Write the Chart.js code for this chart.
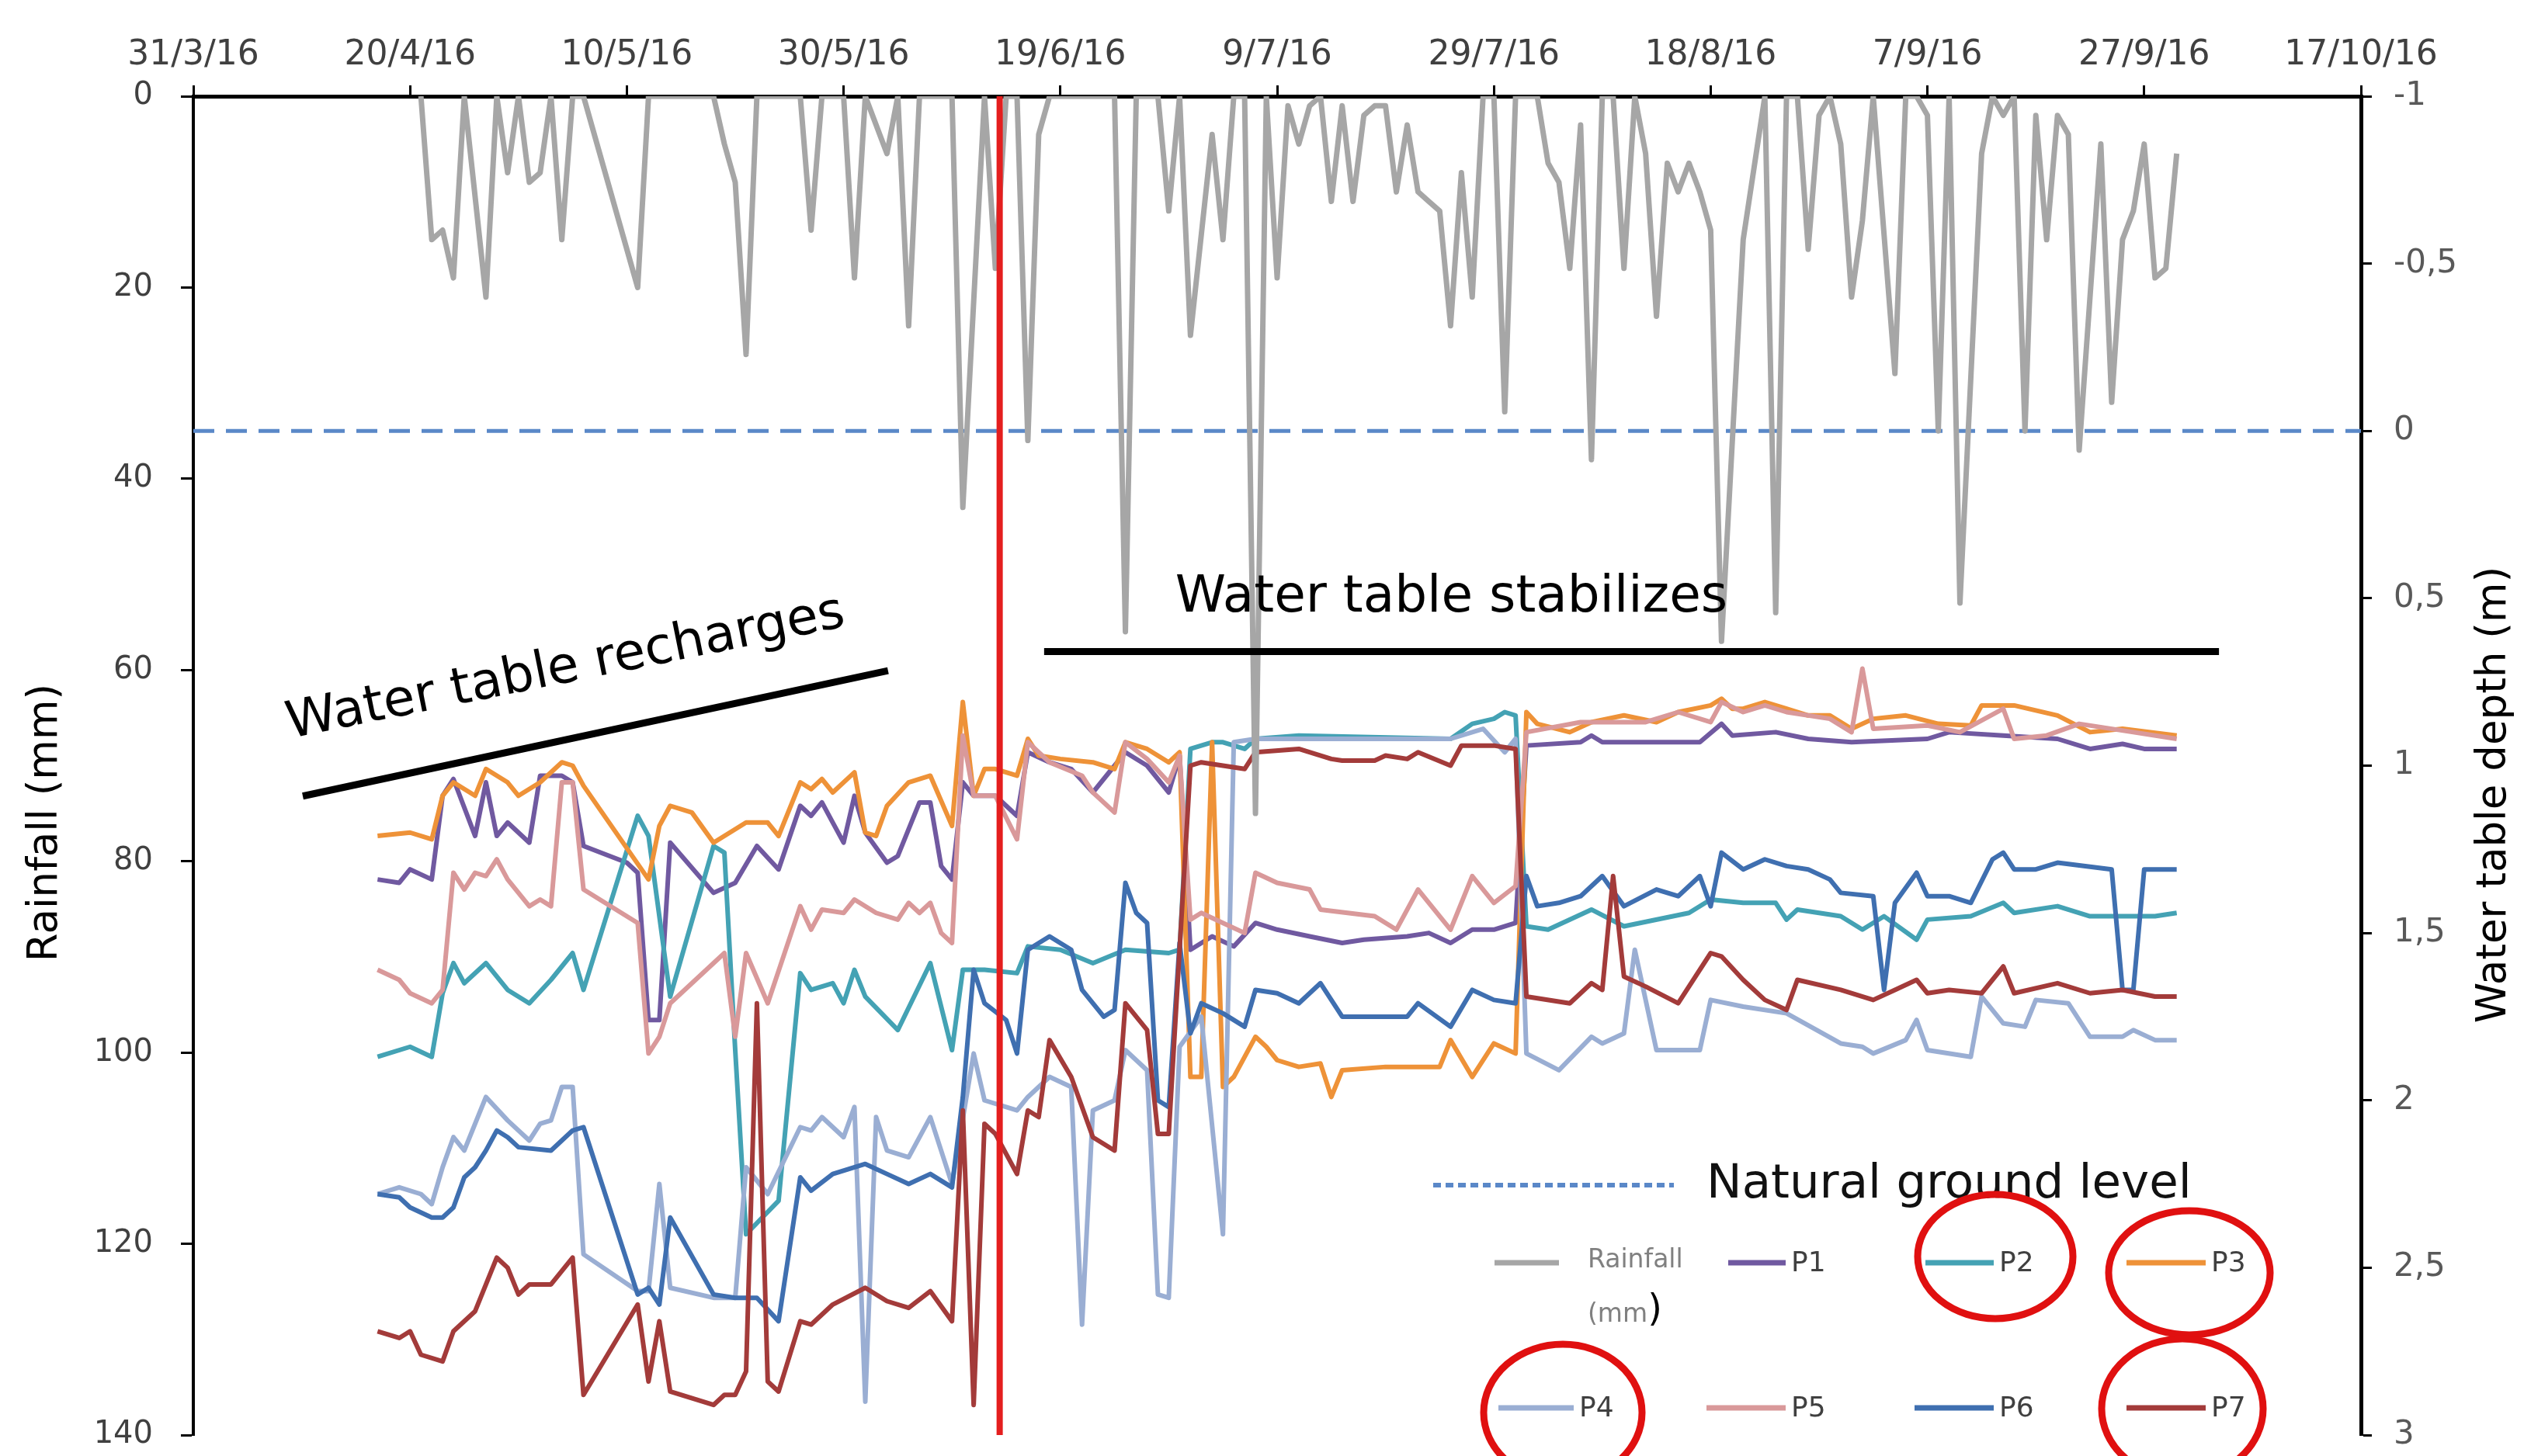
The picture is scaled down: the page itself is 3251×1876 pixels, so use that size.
<!DOCTYPE html>
<html>
<head>
<meta charset="utf-8">
<title>Rainfall and water table depth</title>
<script src="https://cdn.jsdelivr.net/npm/chart.js@4.4.1/dist/chart.umd.min.js"></script>
<style>
html, body { margin: 0; padding: 0; background: #fff; }
#wrap { width: 3251px; height: 1876px; }
</style>
</head>
<body>
<div id="wrap"><canvas id="chart" width="3251" height="1876"></canvas></div>
<script>
// x values are days counted from 31/3/16
var dateLabels = ['31/3/16','20/4/16','10/5/16','30/5/16','19/6/16','9/7/16','29/7/16','18/8/16','7/9/16','27/9/16','17/10/16'];

var rainDay = [21,22,23,24,25,27,28,29,30,31,32,33,34,35,36,41,42,48,49,50,51,52,56,57,58,60,61,62,64,65,66,67,70,71,73,74,75,76,77,78,79,85,86,87,89,90,91,92,94,95,96,97,98,99,100,101,102,103,104,105,106,107,108,109,110,111,112,113,114,115,116,117,118,119,120,121,122,124,125,126,127,128,129,130,131,132,133,134,135,136,137,138,139,140,141,143,145,146,147,148,149,150,151,152,153,154,155,157,158,159,160,161,162,163,165,166,167,168,169,170,171,172,173,174,176,177,178,179,180,181,182,183];
var rainMm = [0,15,14,19,0,21,0,8,0,9,8,0,15,0,0,20,0,0,5,9,27,0,0,14,0,0,19,0,6,0,24,0,0,43,0,18,0,0,36,4,0,0,56,0,0,12,0,25,4,15,0,0,75,0,19,1,5,1,0,11,1,11,2,1,1,10,3,10,11,12,24,8,21,0,0,33,0,0,7,9,18,3,38,0,0,18,0,6,23,7,10,7,10,14,57,15,0,54,0,0,16,2,0,5,21,13,0,29,0,0,2,35,0,53,6,0,2,0,35,2,15,2,4,37,5,32,15,12,5,19,18,6];

var p1Day = [17,19,20,22,23,24,26,27,28,29,31,32,34,35,36,40,41,42,43,44,48,50,52,54,56,57,58,59,60,61,62,64,65,67,68,69,70,71,72,74,75,76,77,79,81,83,86,88,90,91,92,94,96,98,100,103,106,108,112,114,116,118,120,122,123,128,129,130,139,141,142,146,149,153,160,162,167,172,175,178,180,183];
var p1Depth = [1.34,1.35,1.31,1.34,1.09,1.04,1.21,1.05,1.21,1.17,1.23,1.03,1.03,1.05,1.24,1.29,1.32,1.76,1.76,1.23,1.38,1.35,1.24,1.31,1.12,1.15,1.11,1.17,1.23,1.09,1.2,1.29,1.27,1.11,1.11,1.3,1.34,1.05,1.09,1.09,1.12,1.15,0.96,0.99,1.01,1.08,0.96,1.0,1.08,0.97,1.55,1.51,1.54,1.47,1.49,1.51,1.53,1.52,1.51,1.5,1.53,1.49,1.49,1.47,0.94,0.93,0.91,0.93,0.93,0.875,0.91,0.9,0.92,0.93,0.92,0.9,0.91,0.92,0.95,0.935,0.95,0.95];

var p2Day = [17,20,22,23,24,25,27,29,31,33,35,36,41,42,44,48,49,50,51,54,56,57,59,60,61,62,65,68,70,71,73,76,77,80,83,86,90,91,92,94,95,97,98,102,116,118,120,121,122,123,125,129,132,138,140,143,146,147,148,152,154,156,159,160,164,167,168,172,175,178,181,183];
var p2Depth = [1.87,1.84,1.87,1.68,1.59,1.65,1.59,1.67,1.71,1.64,1.56,1.67,1.15,1.21,1.69,1.24,1.26,1.85,2.4,2.3,1.62,1.67,1.65,1.71,1.61,1.69,1.79,1.59,1.85,1.61,1.61,1.62,1.54,1.55,1.59,1.55,1.56,1.55,0.95,0.93,0.93,0.95,0.92,0.91,0.92,0.875,0.86,0.84,0.85,1.48,1.49,1.43,1.48,1.44,1.40,1.41,1.41,1.46,1.43,1.45,1.49,1.45,1.52,1.46,1.45,1.41,1.44,1.42,1.45,1.45,1.45,1.44];

var p3Day = [17,20,22,23,24,26,27,29,30,32,34,35,36,42,43,44,46,48,51,53,54,56,57,58,59,61,62,63,64,66,68,70,71,72,73,74,76,77,78,80,83,85,86,88,90,91,92,93,94,95,96,98,99,100,102,104,105,106,110,115,116,118,120,122,123,124,127,129,132,135,137,140,141,142,143,145,147,149,151,153,155,158,161,164,165,168,172,175,178,183];
var p3Depth = [1.21,1.2,1.22,1.09,1.05,1.09,1.01,1.05,1.09,1.05,0.99,1.0,1.06,1.34,1.18,1.12,1.14,1.23,1.17,1.17,1.21,1.05,1.07,1.04,1.08,1.02,1.2,1.21,1.12,1.05,1.03,1.18,0.81,1.09,1.01,1.01,1.03,0.92,0.97,0.98,0.99,1.01,0.93,0.95,0.99,0.96,1.93,1.93,0.93,1.96,1.93,1.81,1.84,1.88,1.9,1.89,1.99,1.91,1.9,1.9,1.82,1.93,1.83,1.86,0.84,0.875,0.9,0.87,0.85,0.87,0.84,0.82,0.8,0.83,0.83,0.81,0.83,0.85,0.85,0.89,0.86,0.85,0.875,0.88,0.82,0.82,0.85,0.9,0.89,0.91];

var p4Day = [17,19,21,22,23,24,25,26,27,29,31,32,33,34,35,36,41,42,43,44,48,50,51,53,56,57,58,60,61,62,63,64,66,68,70,72,73,76,77,79,81,82,83,85,86,88,89,90,91,93,95,96,98,116,119,121,122,123,126,129,130,132,133,135,139,140,143,147,152,154,155,158,159,160,164,165,167,169,170,173,175,178,179,181,183];
var p4Depth = [2.28,2.26,2.28,2.31,2.2,2.11,2.15,2.07,1.99,2.06,2.12,2.07,2.06,1.96,1.96,2.46,2.57,2.57,2.25,2.56,2.59,2.59,2.2,2.28,2.08,2.09,2.05,2.11,2.02,2.9,2.05,2.15,2.17,2.05,2.25,1.86,2.0,2.03,1.99,1.93,1.96,2.67,2.03,2.0,1.85,1.91,2.58,2.59,1.84,1.75,2.4,0.93,0.92,0.92,0.89,0.96,0.92,1.86,1.91,1.81,1.83,1.8,1.55,1.85,1.85,1.7,1.72,1.74,1.83,1.84,1.86,1.82,1.76,1.85,1.87,1.69,1.77,1.78,1.7,1.71,1.81,1.81,1.79,1.82,1.82];

var p5Day = [17,19,20,22,23,24,25,26,27,28,29,31,32,33,34,35,36,41,42,43,44,49,50,51,53,56,57,58,60,61,63,65,66,67,68,69,70,71,72,74,76,77,79,82,83,85,86,88,90,91,92,93,95,97,98,100,103,104,109,111,113,116,118,120,122,123,128,134,137,140,141,143,145,147,151,153,154,155,160,163,167,168,171,174,179,183];
var p5Depth = [1.61,1.64,1.68,1.71,1.67,1.32,1.37,1.32,1.33,1.28,1.34,1.42,1.4,1.42,1.05,1.05,1.37,1.47,1.86,1.81,1.71,1.56,1.81,1.56,1.71,1.42,1.49,1.43,1.44,1.4,1.44,1.46,1.41,1.44,1.41,1.5,1.53,0.91,1.09,1.09,1.22,0.93,0.99,1.03,1.08,1.14,0.93,0.98,1.05,0.97,1.46,1.44,1.47,1.5,1.32,1.35,1.37,1.43,1.45,1.49,1.37,1.49,1.33,1.41,1.36,0.9,0.87,0.87,0.84,0.87,0.81,0.84,0.82,0.84,0.86,0.9,0.71,0.89,0.88,0.9,0.83,0.92,0.91,0.875,0.9,0.92];

var p6Day = [17,19,20,22,23,24,25,26,27,28,29,30,33,35,36,41,42,43,44,48,50,52,54,56,57,59,62,64,66,68,70,71,72,73,75,76,77,79,81,82,84,85,86,87,88,89,90,91,92,93,95,97,98,100,102,104,106,112,113,116,118,120,122,123,124,126,128,130,132,135,137,139,140,141,143,145,147,149,151,152,155,156,157,159,160,162,164,166,167,168,170,172,177,178,179,180,183];
var p6Depth = [2.28,2.29,2.32,2.35,2.35,2.32,2.23,2.2,2.15,2.09,2.11,2.14,2.15,2.09,2.08,2.58,2.56,2.61,2.35,2.58,2.59,2.59,2.66,2.23,2.27,2.22,2.19,2.22,2.25,2.22,2.26,1.99,1.61,1.71,1.76,1.86,1.55,1.51,1.55,1.67,1.75,1.73,1.35,1.44,1.47,2.0,2.02,1.53,1.8,1.71,1.74,1.78,1.67,1.68,1.71,1.65,1.75,1.75,1.71,1.78,1.67,1.70,1.71,1.33,1.42,1.41,1.39,1.33,1.42,1.37,1.39,1.33,1.42,1.26,1.31,1.28,1.3,1.31,1.34,1.38,1.39,1.67,1.41,1.32,1.39,1.39,1.41,1.28,1.26,1.31,1.31,1.29,1.31,1.67,1.67,1.31,1.31];

var p7Day = [17,19,20,21,23,24,26,28,29,30,31,33,35,36,41,42,43,44,48,49,50,51,52,53,54,56,57,59,62,64,66,68,70,71,72,73,74,76,77,78,79,81,83,85,86,88,89,90,92,93,95,97,98,102,105,106,109,110,112,113,116,117,120,122,123,127,129,130,131,132,134,137,140,141,143,145,147,148,152,155,157,159,160,162,165,167,168,172,175,178,181,183];
var p7Depth = [2.69,2.71,2.69,2.76,2.78,2.69,2.63,2.47,2.5,2.58,2.55,2.55,2.47,2.88,2.61,2.84,2.66,2.87,2.91,2.88,2.88,2.81,1.71,2.84,2.87,2.66,2.67,2.61,2.56,2.6,2.62,2.57,2.66,2.03,2.91,2.07,2.1,2.22,2.03,2.05,1.82,1.93,2.11,2.15,1.71,1.79,2.1,2.1,1.0,0.99,1.0,1.01,0.96,0.95,0.98,0.985,0.985,0.97,0.98,0.96,1.0,0.94,0.94,0.95,1.69,1.71,1.65,1.67,1.33,1.63,1.66,1.71,1.56,1.57,1.64,1.7,1.73,1.64,1.67,1.7,1.67,1.64,1.68,1.67,1.68,1.6,1.68,1.65,1.68,1.67,1.69,1.69];

// annotation marks, in [day, depth]
var groundLevel = [[0, 0], [200, 0]];
var changeLine = [[74.4, -1], [74.4, 3]];
var rechargeLine = [[10.1, 1.091], [64.1, 0.716]];
var stableLine = [[78.5, 0.659], [186.9, 0.659]];
var rechargeText = [8.9, 0.918];
var stableText = [90.6, 0.54];

var colors = {
  rain: '#a6a6a6', p1: '#7059a0', p2: '#44a2b4', p3: '#ee9238', p4: '#9aaed3',
  p5: '#d9999a', p6: '#3f6fb0', p7: '#a33b3a', ground: '#5a88c8', change: '#e41e1e'
};

function pts(xs, ys) {
  return xs.map(function (d, i) { return { x: d, y: ys[i] }; });
}
function pairs(arr) {
  return arr.map(function (p) { return { x: p[0], y: p[1] }; });
}
function line(label, data, color, order, axis, width, dash) {
  return {
    label: label, data: data, yAxisID: axis, borderColor: color, backgroundColor: color,
    borderWidth: width, borderDash: dash || [], pointRadius: 0, tension: 0, fill: false,
    order: order, borderCapStyle: 'butt', borderJoinStyle: 'round'
  };
}

var datasets = [
  line('change', pairs(changeLine), colors.change, 0, 'y2', 8),
  line('recharge', pairs(rechargeLine), '#000', 0, 'y2', 9),
  line('stable', pairs(stableLine), '#000', 0, 'y2', 9),
  line('Rainfall (mm)', pts(rainDay, rainMm), colors.rain, 1, 'y', 7),
  line('P7', pts(p7Day, p7Depth), colors.p7, 2, 'y2', 6),
  line('P6', pts(p6Day, p6Depth), colors.p6, 3, 'y2', 6),
  line('P5', pts(p5Day, p5Depth), colors.p5, 4, 'y2', 6),
  line('P4', pts(p4Day, p4Depth), colors.p4, 5, 'y2', 6),
  line('P3', pts(p3Day, p3Depth), colors.p3, 6, 'y2', 6),
  line('P2', pts(p2Day, p2Depth), colors.p2, 7, 'y2', 6),
  line('P1', pts(p1Day, p1Depth), colors.p1, 8, 'y2', 6),
  line('Natural ground level', pairs(groundLevel), colors.ground, 9, 'y2', 5, [27, 15])
];

var overlay = {
  id: 'overlay',
  afterDraw: function (chart) {
    var ctx = chart.ctx;
    var x = chart.scales.x, y2 = chart.scales.y2;
    ctx.save();
    ctx.fillStyle = '#000';

    // axis titles
    ctx.font = '53px "DejaVu Sans"';
    ctx.textAlign = 'center';
    ctx.textBaseline = 'middle';
    ctx.save();
    ctx.translate(59, 1060);
    ctx.rotate(-Math.PI / 2);
    ctx.fillText('Rainfall (mm)', 0, 0);
    ctx.restore();
    ctx.save();
    ctx.translate(3213, 1024);
    ctx.rotate(-Math.PI / 2);
    ctx.fillText('Water table depth (m)', 0, 0);
    ctx.restore();

    // annotation texts
    ctx.font = '66px "DejaVu Sans"';
    ctx.textAlign = 'left';
    ctx.textBaseline = 'alphabetic';
    ctx.save();
    ctx.translate(x.getPixelForValue(rechargeText[0]), y2.getPixelForValue(rechargeText[1]));
    ctx.rotate(-11.4 * Math.PI / 180);
    ctx.fillText('Water table recharges', 0, 0);
    ctx.restore();
    ctx.fillText('Water table stabilizes', x.getPixelForValue(stableText[0]), y2.getPixelForValue(stableText[1]));

    // legend
    ctx.lineCap = 'butt';
    ctx.strokeStyle = colors.ground;
    ctx.lineWidth = 6;
    ctx.setLineDash([10, 6]);
    ctx.beginPath(); ctx.moveTo(1846, 1527); ctx.lineTo(2156, 1527); ctx.stroke();
    ctx.setLineDash([]);
    ctx.font = '61px "DejaVu Sans"';
    ctx.fillStyle = '#111';
    ctx.fillText('Natural ground level', 2198, 1543);

    var items = [
      ['P1', colors.p1, 2226, 2300, 1627], ['P2', colors.p2, 2480, 2568, 1627], ['P3', colors.p3, 2739, 2841, 1627],
      ['P4', colors.p4, 1930, 2027, 1814], ['P5', colors.p5, 2198, 2300, 1814], ['P6', colors.p6, 2466, 2568, 1814],
      ['P7', colors.p7, 2739, 2841, 1814]
    ];
    ctx.lineWidth = 7;
    ctx.strokeStyle = colors.rain;
    ctx.beginPath(); ctx.moveTo(1925, 1627); ctx.lineTo(2008, 1627); ctx.stroke();
    ctx.textBaseline = 'middle';
    ctx.font = '33px "DejaVu Sans"';
    ctx.fillStyle = '#808080';
    ctx.fillText('Rainfall', 2045, 1624);
    ctx.fillText('(mm', 2045, 1694);
    var w = ctx.measureText('(mm').width;
    ctx.font = '48px "DejaVu Sans"';
    ctx.fillStyle = '#000';
    ctx.fillText(')', 2045 + w, 1690);

    ctx.font = '36px "DejaVu Sans"';
    ctx.fillStyle = '#404040';
    items.forEach(function (it) {
      ctx.strokeStyle = it[1];
      ctx.beginPath(); ctx.moveTo(it[2], it[4]); ctx.lineTo(it[3], it[4]); ctx.stroke();
      ctx.fillText(it[0], it[3] + 7, it[4] + 2);
    });

    // red circles
    ctx.strokeStyle = '#e01010';
    ctx.lineWidth = 9;
    [[2570, 1619, 100, 80], [2820, 1640, 104, 80], [2013, 1820, 102, 88], [2811, 1815, 104, 90]].forEach(function (e) {
      ctx.beginPath(); ctx.ellipse(e[0], e[1], e[2], e[3], 0, 0, Math.PI * 2); ctx.stroke();
    });
    ctx.restore();
  }
};

Chart.defaults.font.family = '"DejaVu Sans", sans-serif';

new Chart(document.getElementById('chart').getContext('2d'), {
  type: 'line',
  data: { datasets: datasets },
  options: {
    responsive: false,
    devicePixelRatio: 1,
    animation: false,
    layout: { padding: { top: 0, left: 0, right: 0, bottom: 27 } },
    plugins: { legend: { display: false }, tooltip: { enabled: false } },
    scales: {
      x: {
        type: 'linear', position: 'top', min: 0, max: 200,
        afterFit: function (s) { s.height = 124; s.paddingLeft = 0; s.paddingRight = 0; },
        ticks: {
          stepSize: 20, autoSkip: false, maxRotation: 0, padding: 12,
          color: '#404040', font: { size: 44 },
          callback: function (v) { return dateLabels[Math.round(v / 20)]; }
        },
        grid: { drawOnChartArea: false, tickLength: 14, tickWidth: 3, tickColor: '#000' },
        border: { display: true, color: '#000', width: 5 }
      },
      y: {
        type: 'linear', position: 'left', reverse: true, min: 0, max: 140,
        afterFit: function (s) { s.width = 249; s.paddingTop = 0; s.paddingBottom = 0; },
        ticks: { stepSize: 20, padding: 36, color: '#404040', font: { size: 40 } },
        grid: { drawOnChartArea: false, tickLength: 16, tickWidth: 3, tickColor: '#000' },
        border: { display: true, color: '#000', width: 4 }
      },
      y2: {
        type: 'linear', position: 'right', reverse: true, min: -1, max: 3,
        afterFit: function (s) { s.width = 210; s.paddingTop = 0; s.paddingBottom = 0; },
        ticks: {
          stepSize: 0.5, padding: 28, color: '#595959', font: { size: 42 },
          callback: function (v) { return String(v).replace('.', ','); }
        },
        grid: { drawOnChartArea: false, tickLength: 14, tickWidth: 3, tickColor: '#000' },
        border: { display: true, color: '#000', width: 5 }
      }
    }
  },
  plugins: [overlay]
});
</script>
</body>
</html>
